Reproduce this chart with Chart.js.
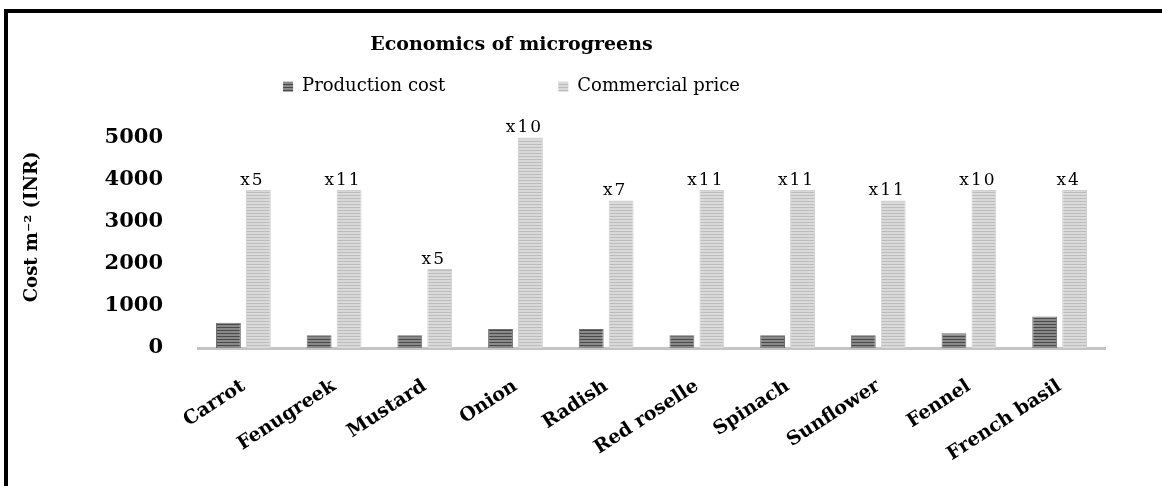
<!DOCTYPE html>
<html>
<head>
<meta charset="utf-8">
<script src="https://cdn.jsdelivr.net/npm/chart.js@4.4.1/dist/chart.umd.min.js"></script>
<style>
  html, body { margin: 0; padding: 0; background: #ffffff; }
  #wrap { position: relative; width: 1162px; height: 486px; }
  #frame {
    position: absolute; left: 4px; top: 9px; right: 0; bottom: 0;
    border-top: 4px solid #000; border-left: 4px solid #000;
    pointer-events: none;
  }
</style>
</head>
<body>
<div id="wrap">
  <canvas id="chart" width="1162" height="486"></canvas>
  <div id="frame"></div>
</div>
<script>
const crops = ['Carrot', 'Fenugreek', 'Mustard', 'Onion', 'Radish', 'Red roselle', 'Spinach', 'Sunflower', 'Fennel', 'French basil'];
const productionCost = [600, 300, 300, 450, 450, 300, 300, 300, 350, 750];
const commercialPrice = [3750, 3750, 1875, 5000, 3500, 3750, 3750, 3500, 3750, 3750];
const multipliers = ['x5', 'x11', 'x5', 'x10', 'x7', 'x11', 'x11', 'x11', 'x10', 'x4'];
const yTicks = [0, 1000, 2000, 3000, 4000, 5000];

const serif = "'DejaVu Serif', 'Liberation Serif', serif";

// horizontal striped fill like the original
function stripes(base, line) {
  const cv = document.createElement('canvas');
  cv.width = 4; cv.height = 3;
  const g = cv.getContext('2d');
  g.fillStyle = base; g.fillRect(0, 0, 4, 3);
  g.fillStyle = line; g.fillRect(0, 0, 4, 1);
  return g.createPattern(cv, 'repeat');
}

const darkFill = stripes('#8a8a8a', '#4a4a4a');
const lightFill = stripes('#d9d9d9', '#bdbdbd');

// "x5" style labels above the commercial price bars
const multiplierLabels = {
  id: 'multiplierLabels',
  afterLayout(chart) {
    // title and legend sit left of the plot centre in the original
    const shift = 52;
    chart.titleBlock.left -= shift; chart.titleBlock.right -= shift;
    chart.legend.left -= shift; chart.legend.right -= shift;
  },
  afterDatasetsDraw(chart) {
    const ctx = chart.ctx;
    const meta = chart.getDatasetMeta(1);
    ctx.save();
    ctx.font = '17px ' + serif;
    ctx.letterSpacing = '2px';
    ctx.fillStyle = '#000';
    ctx.textAlign = 'center';
    ctx.textBaseline = 'bottom';
    meta.data.forEach((bar, i) => {
      ctx.fillText(multipliers[i], bar.x - 6, bar.y - 1);
    });
    ctx.restore();
  }
};

new Chart(document.getElementById('chart'), {
  type: 'bar',
  data: {
    labels: crops,
    datasets: [
      {
        label: 'Production cost',
        data: productionCost,
        backgroundColor: darkFill,
        borderColor: '#6e6e6e',
        borderWidth: 1
      },
      {
        label: 'Commercial price',
        data: commercialPrice,
        backgroundColor: lightFill,
        borderColor: '#cfcfcf',
        borderWidth: 1
      }
    ]
  },
  options: {
    responsive: false,
    animation: false,
    layout: { padding: { left: 22, right: 57, top: 0, bottom: 0 } },
    datasets: { bar: { categoryPercentage: 0.66, barPercentage: 0.83 } },
    plugins: {
      title: {
        display: true,
        text: 'Economics of microgreens',
        color: '#000',
        font: { family: serif, size: 19, weight: 'bold' },
        padding: { top: 34, bottom: 11 }
      },
      legend: {
        display: true,
        labels: {
          color: '#000',
          boxWidth: 10,
          boxHeight: 10,
          padding: 10,
          font: { family: serif, size: 18 },
          generateLabels(chart) {
            const items = Chart.defaults.plugins.legend.labels.generateLabels(chart);
            // wide gap between the two entries, as in the original
            items[0].text = items[0].text + '\u00A0'.repeat(18);
            items.forEach(it => { it.lineWidth = 0; });
            return items;
          }
        }
      },
      tooltip: { enabled: false }
    },
    scales: {
      x: {
        grid: { display: false, drawTicks: false },
        border: { display: true, color: '#c4c4c4', width: 3 },
        afterFit: scale => { scale.height = 138; },
        ticks: {
          color: '#000',
          minRotation: 33,
          maxRotation: 33,
          padding: 27,
          font: { family: serif, size: 19, weight: 'bold' }
        }
      },
      y: {
        min: 0,
        max: 5750,
        afterBuildTicks: axis => { axis.ticks = yTicks.map(v => ({ value: v })); },
        grid: { display: false, drawTicks: false },
        border: { display: false },
        title: {
          display: true,
          text: 'Cost m\u207B\u00B2 (INR)',
          color: '#000',
          font: { family: serif, size: 18, weight: 'bold' },
          padding: { top: 0, bottom: 26 }
        },
        ticks: {
          color: '#000',
          padding: 35,
          callback: v => String(v),
          font: { family: serif, size: 21, weight: 'bold' }
        }
      }
    }
  },
  plugins: [multiplierLabels]
});
</script>
</body>
</html>
